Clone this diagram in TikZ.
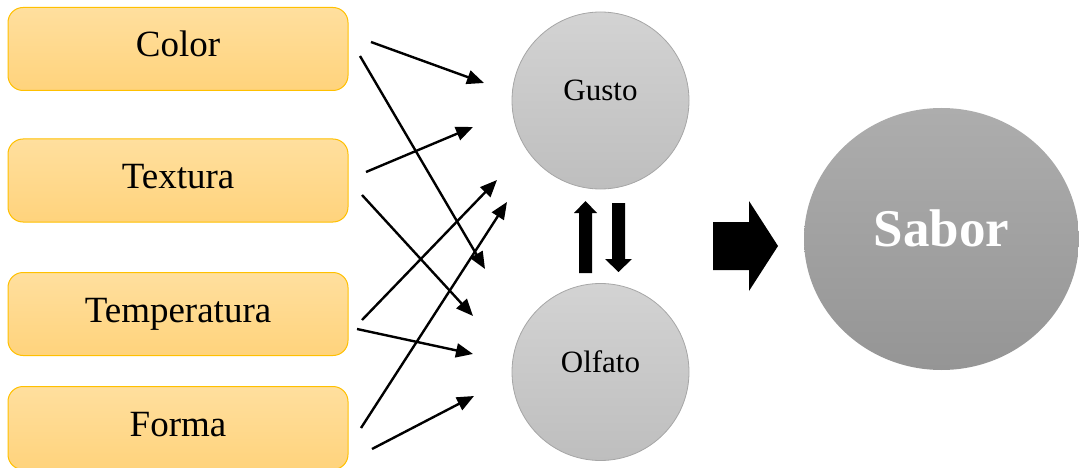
\documentclass[tikz,border=0pt]{standalone}
\usepackage{fontspec}
\setmainfont{Liberation Serif}
\usetikzlibrary{arrows.meta,shapes.geometric}
\definecolor{boxtop}{HTML}{FFDF9E}
\definecolor{boxbot}{HTML}{FFD37C}
\definecolor{boxline}{HTML}{FFC000}
\definecolor{circtop}{HTML}{D3D3D3}
\definecolor{circbot}{HTML}{BEBEBE}
\definecolor{circline}{HTML}{A6A6A6}
\definecolor{sabtop}{HTML}{ADADAD}
\definecolor{sabbot}{HTML}{959595}
\tikzset{
  inbox/.style={draw=boxline, line width=1pt, rounded corners=15pt, top color=boxtop, bottom color=boxbot,
    minimum width=340pt, minimum height=83pt, inner sep=0pt, text height=26pt, text depth=10pt,
    font=\fontsize{37}{40}\selectfont},
  sense/.style={circle, draw=circline, line width=0.8pt, top color=circtop, bottom color=circbot,
    minimum size=177pt, inner sep=0pt, text height=20pt, text depth=20pt,
    font=\fontsize{31}{34}\selectfont},
  result/.style={ellipse, top color=sabtop, bottom color=sabbot, minimum width=275pt, minimum height=262pt,
    inner sep=0pt, text height=37pt, text depth=23pt, text=white, font=\fontsize{53}{56}\selectfont\bfseries},
  conn/.style={line width=2.4pt, -{Triangle[length=17pt,width=14pt]}},
  block/.style={fill=black}
}
\begin{document}
\begin{tikzpicture}[x=1pt,y=-1pt]
\useasboundingbox (0,0) rectangle (1079,468);
\begin{scope}
\clip (0,0) rectangle (1079,468);
\node[inbox] (color) at (178,49) {Color};
\node[inbox] (textura) at (178,180.5) {Textura};
\node[inbox] (temp) at (178,314) {Temperatura};
\node[inbox] (forma) at (178,428) {Forma};
\node[sense] (gusto) at (600.5,100.5) {Gusto};
\node[sense] (olfato) at (600.5,372) {Olfato};
\node[result] (sabor) at (941.5,239) {Sabor};
\end{scope}

% connector end points
\coordinate (c1s) at (371,42);  \coordinate (c1e) at (484,83);
\coordinate (c2s) at (360,56);  \coordinate (c2e) at (485,269);
\coordinate (t1s) at (366,172); \coordinate (t1e) at (473,127);
\coordinate (t2s) at (362,195); \coordinate (t2e) at (473,316);
\coordinate (p1s) at (362,320); \coordinate (p1e) at (497,180);
\coordinate (p2s) at (357,329); \coordinate (p2e) at (473,354);
\coordinate (f1s) at (361,428); \coordinate (f1e) at (507,202);
\coordinate (f2s) at (372,449); \coordinate (f2e) at (474,396);

\draw[conn] (c1s) -- (c1e);
\draw[conn] (c2s) -- (c2e);
\draw[conn] (t1s) -- (t1e);
\draw[conn] (t2s) -- (t2e);
\draw[conn] (p1s) -- (p1e);
\draw[conn] (p2s) -- (p2e);
\draw[conn] (f1s) -- (f1e);
\draw[conn] (f2s) -- (f2e);

% block arrows
\fill[block] (579,273) -- (579,213) -- (574,213) -- (585.5,201) -- (597,213) -- (592,213) -- (592,273) -- cycle;
\fill[block] (612,203) -- (612,259) -- (605,259) -- (618.5,272) -- (632,259) -- (625,259) -- (625,203) -- cycle;
\fill[block] (713,222) -- (749,222) -- (749,201) -- (778,246) -- (749,291) -- (749,270) -- (713,270) -- cycle;
\end{tikzpicture}
\end{document}
